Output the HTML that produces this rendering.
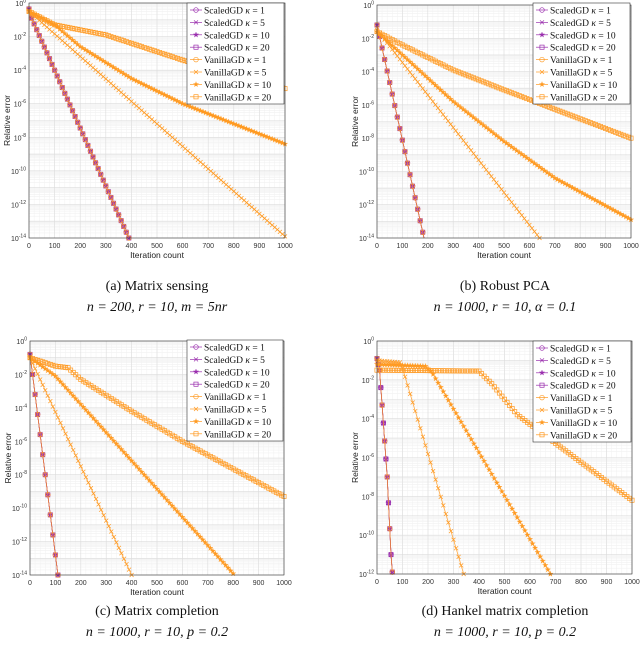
<!DOCTYPE html>
<html><head><meta charset="utf-8">
<style>
body{margin:0;background:#fff;width:640px;height:650px;overflow:hidden;font-family:"Liberation Sans",sans-serif}
svg text{font-family:"Liberation Sans",sans-serif}
svg text.cap{font-family:"Liberation Serif",serif;font-size:14px;fill:#111}
svg text.lgt{font-family:"Liberation Serif",serif;font-size:9.5px;fill:#111}
</style></head>
<body>
<svg id="fig" width="640" height="650" viewBox="0 0 640 650" xmlns="http://www.w3.org/2000/svg"></svg>
<script>
// ---- data: [iteration, log10(relative error)] knots ----
const seriesNames = ["ScaledGD κ = 1","ScaledGD κ = 5","ScaledGD κ = 10","ScaledGD κ = 20","VanillaGD κ = 1","VanillaGD κ = 5","VanillaGD κ = 10","VanillaGD κ = 20"];
const xTicks = [0,100,200,300,400,500,600,700,800,900,1000];
const aScaled = [[0,-0.35],[10,-0.9],[390,-14]];
const aV5 = [[0,-0.5],[1000,-13.9]];
const aV10 = [[0,-0.5],[100,-1.3],[200,-2.6],[400,-4.5],[600,-6],[800,-7.2],[1000,-8.4]];
const aV20 = [[0,-0.5],[100,-1.3],[200,-1.6],[300,-1.9],[400,-2.4],[600,-3.4],[800,-4.3],[1000,-5.1]];
const bScaled = [[0,-1.2],[185,-14]];
const bV5 = [[0,-1.5],[640,-14]];
const bV10 = [[0,-1.6],[300,-5.8],[500,-8.2],[700,-10.4],[1000,-12.9]];
const bV20 = [[0,-1.6],[100,-2.4],[300,-3.9],[500,-5.1],[1000,-8.0]];
const cScaled = [[0,-0.8],[110,-14]];
const cV5 = [[0,-1],[400,-14]];
const cV10 = [[0,-1],[100,-2.1],[805,-14]];
const cV20 = [[0,-1],[100,-1.5],[150,-1.6],[200,-2.3],[400,-4.2],[600,-6],[1000,-9.3]];
const dScaled = [[0,-0.9],[10,-1.5],[20,-3.3],[40,-7],[55,-11],[60,-11.9]];
const dV5 = [[0,-1],[90,-1.1],[100,-1.4],[340,-12]];
const dV10 = [[0,-1.2],[190,-1.3],[215,-1.6],[680,-12]];
const dV20 = [[0,-1.5],[400,-1.55],[450,-2.2],[550,-3.8],[1000,-8.2]];

const panels = [
 {id:"a",L:29,R:285,T:3,B:238,ymin:-14,lg:[187,3],cap:["(a) Matrix sensing","n = 200, r = 10, m = 5nr"],cy:290,cx:157,
  s:[aScaled,aScaled,aScaled,aScaled,aScaled,aV5,aV10,aV20]},
 {id:"b",L:377,R:631,T:5,B:238,ymin:-14,lg:[533,3],cap:["(b) Robust PCA","n = 1000, r = 10, α = 0.1"],cy:290,cx:505,
  s:[bScaled,bScaled,bScaled,bScaled,bScaled,bV5,bV10,bV20]},
 {id:"c",L:30,R:284,T:341,B:575,ymin:-14,lg:[187,340],cap:["(c) Matrix completion","n = 1000, r = 10, p = 0.2"],cy:615,cx:157,
  s:[cScaled,cScaled,cScaled,cScaled,cScaled,cV5,cV10,cV20]},
 {id:"d",L:377,R:632,T:341,B:574,ymin:-12,lg:[533,341],cap:["(d) Hankel matrix completion","n = 1000, r = 10, p = 0.2"],cy:615,cx:505,
  s:[dScaled,dScaled,dScaled,dScaled,dScaled,dV5,dV10,dV20]}
];
const PUR="#9a2fae", ORA="#ff9a22";
const NS="http://www.w3.org/2000/svg";
const svg=document.getElementById("fig");
function mk(tag,attrs,parent){const e=document.createElementNS(NS,tag);for(const k in attrs)e.setAttribute(k,attrs[k]);(parent||svg).appendChild(e);return e;}
function marker(g,type,x,y,col){
  let e;
  if(type===0){e=mk("circle",{cx:x,cy:y,r:2.3,fill:"none",stroke:col,"stroke-width":0.7},g);}
  else if(type===1){e=mk("path",{d:`M${x-2} ${y-2}L${x+2} ${y+2}M${x-2} ${y+2}L${x+2} ${y-2}`,stroke:col,"stroke-width":0.7},g);}
  else if(type===2){let p="";for(let i=0;i<10;i++){const r=i%2?1.1:2.8,a=-Math.PI/2+i*Math.PI/5;p+=(i?"L":"M")+(x+r*Math.cos(a)).toFixed(2)+" "+(y+r*Math.sin(a)).toFixed(2);}e=mk("path",{d:p+"Z",fill:col,stroke:col,"stroke-width":0.3},g);}
  else {e=mk("rect",{x:x-2.1,y:y-2.1,width:4.2,height:4.2,fill:"none",stroke:col,"stroke-width":0.7},g);}
  
  
}
function valAt(d,t){for(let i=1;i<d.length;i++){if(t<=d[i][0]){const a=d[i-1],b=d[i];return a[1]+(b[1]-a[1])*(t-a[0])/(b[0]-a[0]);}}return null;}

panels.forEach(p=>{
  const g=mk("g",{});
  
  
  const X=v=>p.L+(v/1000)*(p.R-p.L);
  const Y=v=>p.T+(v/p.ymin)*(p.B-p.T);
  mk("rect",{x:p.L,y:p.T,width:p.R-p.L,height:p.B-p.T,fill:"#fff"},g);
  for(let e=0;e>p.ymin;e--){for(let k=2;k<10;k++){const y=Y(e-1+Math.log10(k));mk("line",{x1:p.L,x2:p.R,y1:y,y2:y,stroke:"#eeeeee","stroke-width":0.5},g);}}
  for(let v=0;v<=1000;v+=20){mk("line",{x1:X(v),x2:X(v),y1:p.T,y2:p.B,stroke:"#f1f1f1","stroke-width":0.5},g);}
  for(let e=0;e>=p.ymin;e--){const y=Y(e);mk("line",{x1:p.L,x2:p.R,y1:y,y2:y,stroke:"#dcdcdc","stroke-width":0.6},g);}
  xTicks.forEach(v=>{mk("line",{x1:X(v),x2:X(v),y1:p.T,y2:p.B,stroke:"#dcdcdc","stroke-width":0.6},g);});
  p.s.forEach((d,si)=>{
    const col=si<4?PUR:ORA;
    const sg=mk("g",{},g);
    
    
    const last=d[d.length-1];
    mk("polyline",{points:d.map(q=>X(q[0]).toFixed(2)+","+Y(q[1]).toFixed(2)).join(" "),fill:"none",stroke:col,"stroke-width":si<4?0.7:0.8,"stroke-opacity":si<4?1:0.85},sg);
    const step=si<4?(last[0]>100?10:5):10;
    for(let t=0;t<=last[0];t+=step){const v=valAt(d,t===0?0.0001:t);if(v===null)continue;marker(sg,si%4,X(t),Y(t===0?d[0][1]:v),col);}
  });
  mk("rect",{x:p.L,y:p.T,width:p.R-p.L,height:p.B-p.T,fill:"none",stroke:"#333","stroke-width":0.6},g);
  xTicks.forEach(v=>{const t=mk("text",{x:X(v),y:p.B+10,"font-size":7,"text-anchor":"middle",fill:"#333"},g);t.textContent=v;
    });
  for(let e=0;e>=p.ymin;e-=2){const t=mk("text",{x:p.L-3,y:Y(e)+3,"font-size":7,"text-anchor":"end",fill:"#333"},g);
    t.innerHTML="10<tspan dy='-3.5' font-size='5'>"+(e===0?"0":"-"+(-e))+"</tspan>";
    }
  const xl=mk("text",{x:(p.L+p.R)/2,y:p.B+20,"font-size":8.5,"text-anchor":"middle",fill:"#222"},g);xl.textContent="Iteration count";
  
  const yl=mk("text",{x:0,y:0,"font-size":8.5,"text-anchor":"middle",fill:"#222",transform:`translate(${p.L-19},${(p.T+p.B)/2}) rotate(-90)`},g);yl.textContent="Relative error";
  
  const [lx,ly]=p.lg, lw=p.R-lx-1, lh=101;
  const lgG=mk("g",{},g);
  
  mk("rect",{x:lx,y:ly,width:lw,height:lh,fill:"#fff",stroke:"#333","stroke-width":0.6},lgG);
  seriesNames.forEach((n,i)=>{
    const col=i<4?PUR:ORA, yy=ly+7+i*12.4;
    const eg=mk("g",{},lgG);
    
    mk("line",{x1:lx+3,x2:lx+15,y1:yy,y2:yy,stroke:col,"stroke-width":0.7},eg);
    marker(eg,i%4,lx+9,yy,col);
    const t=mk("text",{x:lx+17,y:yy+3.5,class:"lgt"},eg);
    t.innerHTML=n.replace("κ","<tspan font-style='italic'>κ</tspan>");
  });
  const c1=mk("text",{x:p.cx,y:p.cy,"text-anchor":"middle",class:"cap"});c1.textContent=p.cap[0];
  
  const c2=mk("text",{x:p.cx,y:p.cy+21,"text-anchor":"middle",class:"cap","font-style":"italic"});c2.textContent=p.cap[1];
  
});
</script>
</body></html>
